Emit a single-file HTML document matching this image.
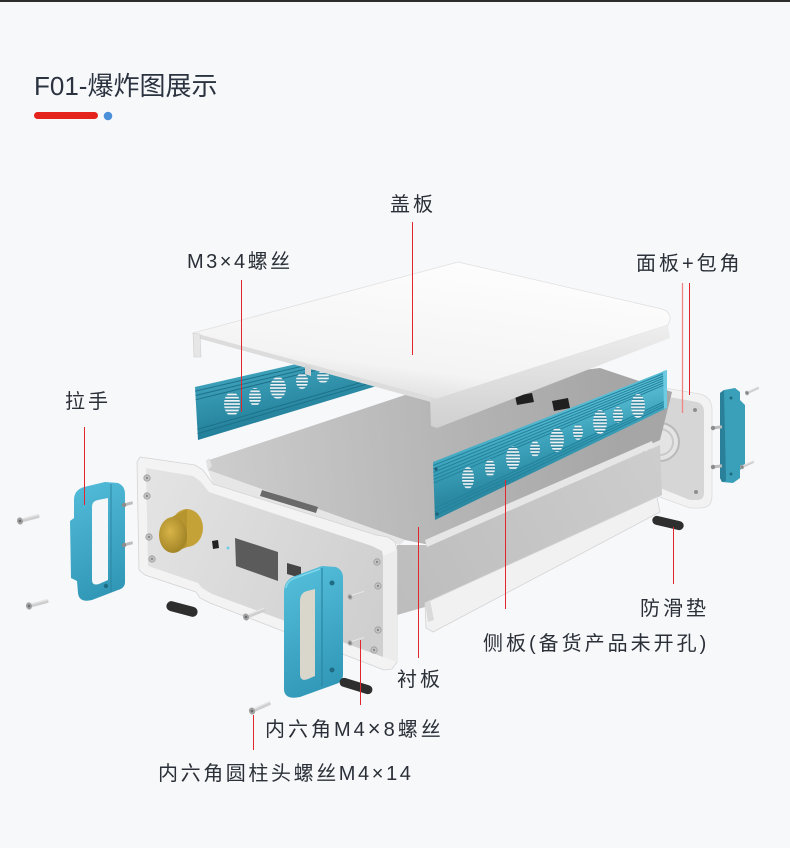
<!DOCTYPE html>
<html><head><meta charset="utf-8">
<style>
html,body{margin:0;padding:0;background:#f7f8fa;}
svg{display:block}
text{font-family:"Liberation Sans","Noto Sans CJK SC",sans-serif;fill:#2b3038;}
</style></head><body>
<svg width="790" height="848" viewBox="0 0 790 848" xmlns="http://www.w3.org/2000/svg">
<defs>
  <linearGradient id="gTop" gradientUnits="userSpaceOnUse" x1="458" y1="262" x2="440" y2="400">
    <stop offset="0" stop-color="#fdfdfd"/><stop offset="0.8" stop-color="#f4f4f4"/><stop offset="1" stop-color="#e2e2e2"/>
  </linearGradient>
  <linearGradient id="gLip" x1="0" y1="0" x2="0" y2="1">
    <stop offset="0" stop-color="#eeeeee"/><stop offset="1" stop-color="#d0d0d0"/>
  </linearGradient>
  <linearGradient id="gPlate" gradientUnits="userSpaceOnUse" x1="210" y1="460" x2="620" y2="420">
    <stop offset="0" stop-color="#cdcdcd"/><stop offset="0.55" stop-color="#b6b6b6"/><stop offset="1" stop-color="#a6a6a6"/>
  </linearGradient>
  <linearGradient id="gBot" gradientUnits="userSpaceOnUse" x1="400" y1="600" x2="660" y2="460">
    <stop offset="0" stop-color="#bdbdbd"/><stop offset="1" stop-color="#cdcdcd"/>
  </linearGradient>
  <linearGradient id="gTealR" gradientUnits="userSpaceOnUse" x1="550" y1="410" x2="565" y2="470">
    <stop offset="0" stop-color="#58bdd4"/><stop offset="0.5" stop-color="#3ba1ba"/><stop offset="1" stop-color="#2b89a2"/>
  </linearGradient>
  <linearGradient id="gTealL" gradientUnits="userSpaceOnUse" x1="280" y1="370" x2="290" y2="420">
    <stop offset="0" stop-color="#3c9fb8"/><stop offset="1" stop-color="#23809a"/>
  </linearGradient>
  <linearGradient id="gFace" gradientUnits="userSpaceOnUse" x1="146" y1="500" x2="383" y2="600">
    <stop offset="0" stop-color="#e3e3e3"/><stop offset="1" stop-color="#cfcfcf"/>
  </linearGradient>
  <linearGradient id="gHandle" gradientUnits="userSpaceOnUse" x1="280" y1="570" x2="345" y2="690">
    <stop offset="0" stop-color="#55c0dc"/><stop offset="1" stop-color="#2f95b5"/>
  </linearGradient>
  <linearGradient id="gHandleL" gradientUnits="userSpaceOnUse" x1="70" y1="485" x2="125" y2="600">
    <stop offset="0" stop-color="#52bcd9"/><stop offset="1" stop-color="#2e93b3"/>
  </linearGradient>
  <radialGradient id="gGold" cx="0.4" cy="0.4" r="0.7">
    <stop offset="0" stop-color="#d8b448"/><stop offset="1" stop-color="#9c7f22"/>
  </radialGradient>
  <pattern id="vent" width="4" height="3.2" patternUnits="userSpaceOnUse">
    <rect width="4" height="3.2" fill="#2a88a1"/><rect width="4" height="1.7" fill="#eef2f4"/>
  </pattern>
  <g id="scr">
    <rect x="0" y="-2" width="20" height="4" rx="1" fill="#cfcfcf"/>
    <rect x="2" y="-2" width="18" height="1.3" fill="#e8e8e8"/>
    <ellipse cx="0" cy="0" rx="3" ry="3.6" fill="#a3a3a3"/>
    <circle cx="0" cy="0" r="1.3" fill="#6d6d6d"/>
  </g>
  <g id="stud">
    <rect x="0" y="-1.5" width="9" height="3" fill="#bdbdbd"/>
    <circle cx="0" cy="0" r="2.2" fill="#8d8d8d"/>
  </g>
  <g id="hole">
    <circle cx="0" cy="0" r="3.2" fill="#c4c4c4" stroke="#9c9c9c" stroke-width="0.8"/>
    <circle cx="0" cy="0" r="1.2" fill="#8a8a8a"/>
  </g>
</defs>

<rect width="790" height="848" fill="#f7f8fa"/>
<rect width="790" height="2" fill="#2d2d2d"/>

<!-- Title -->
<text x="34" y="95" font-size="26" style="fill:#2b3340">F01-爆炸图展示</text>
<rect x="34" y="112" width="64" height="7" rx="3.5" fill="#e5231d"/>
<circle cx="108" cy="116" r="4.3" fill="#4a8fd8"/>

<!-- Back panel (面板) -->
<path d="M577,373 L700,394 Q712,397 712,410 L712,496 Q712,508 700,508 L690,508 L643,491 L577,470 Z" fill="#f2f2f2" stroke="#dcdcdc" stroke-width="0.8"/>
<path d="M585,382 L697,402 Q704,404 704,412 L704,493 Q704,500 697,500 L690,500 L650,484 L585,464 Z" fill="#d6d6d6"/>
<circle cx="660" cy="442" r="19" fill="#e4e4e4" stroke="#b9b9b9" stroke-width="2"/>
<circle cx="660" cy="442" r="13" fill="none" stroke="#c9c9c9" stroke-width="2"/>
<circle cx="695" cy="410" r="2" fill="#8e8e8e"/>
<circle cx="696" cy="492" r="2" fill="#8e8e8e"/>

<!-- Lining plate (衬板) -->
<path d="M206,461 L420,390 L600,368 L672,392 L660,440 L430,545 L405,540 L208,470 Z" fill="url(#gPlate)"/>
<path d="M206,461 L209,458 L212,466 L208,470 Z" fill="#e2e2e2"/>
<!-- dark interior bits -->
<path d="M515,396 L532,393 L534,402 L517,405 Z" fill="#1f1f1f"/>
<path d="M552,401 L568,398 L570,408 L554,411 Z" fill="#1f1f1f"/>

<!-- Bottom tray -->
<path d="M397,545 L430,545 L660,445 L662,495 L432,605 L397,615 Z" fill="url(#gBot)"/>
<path d="M425,540 L652,441 L654,447 L427,547 Z" fill="#e6e6e6"/>
<path d="M425,603 L657,497 L660,512 L433,632 L426,628 Z" fill="#f1f1f1" stroke="#d4d4d4" stroke-width="0.8"/>
<path d="M425,603 L430,600 L434,620 L428,622 Z" fill="#dadada"/>

<!-- Left teal side panel -->
<path d="M195,387 L380,345 L380,385 L198,440 Z" fill="url(#gTealL)"/>
<g stroke="#1d7189" stroke-width="1">
  <line x1="195.2" y1="391.2" x2="380" y2="348.2"/>
  <line x1="195.5" y1="395.5" x2="380" y2="351.4"/>
  <line x1="195.7" y1="399.7" x2="380" y2="354.6"/>
  <line x1="197.4" y1="429.4" x2="380" y2="377"/>
  <line x1="197.6" y1="433.6" x2="380" y2="380.2"/>
</g>
<g fill="url(#vent)">
  <ellipse cx="232" cy="404" rx="8" ry="12"/>
  <ellipse cx="255" cy="397" rx="6" ry="9"/>
  <ellipse cx="278" cy="388" rx="8" ry="11"/>
  <ellipse cx="302" cy="381" rx="6" ry="8"/>
  <ellipse cx="323" cy="377" rx="6" ry="6"/>
</g>

<!-- Top cover (盖板) -->
<path d="M193,333 L458,262 L662,309 Q671,312 670,320 L668,325 L436,399 L430,397 Z" fill="url(#gTop)" stroke="#e0e0e0" stroke-width="0.8"/>
<path d="M430,397 L436,399 L668,325 L670,338 L437,428 L431,426 Z" fill="url(#gLip)"/>
<path d="M193,333 L431,397 L431,402 L197,338 Z" fill="#dcdcdc"/>
<path d="M193,333 L200,334 L201,357 L194,357 Z" fill="#e6e6e6" stroke="#cfcfcf" stroke-width="0.6"/>
<path d="M305,365 L311,367 L311,376 L305,374 Z" fill="#d4d4d4"/>

<!-- Right teal side panel (侧板) -->
<path d="M433,462 L667,370 L667,408 L435,520 Z" fill="url(#gTealR)"/>
<g stroke="#23819b" stroke-width="1">
  <line x1="433.1" y1="465.5" x2="667" y2="372.3"/>
  <line x1="433.2" y1="469.0" x2="667" y2="374.6"/>
  <line x1="433.4" y1="472.4" x2="667" y2="376.8"/>
  <line x1="433.5" y1="475.9" x2="667" y2="379.1"/>
  <line x1="433.6" y1="479.4" x2="667" y2="381.4"/>
  <line x1="433.7" y1="482.9" x2="667" y2="383.7"/>
  <line x1="434.6" y1="508.4" x2="667" y2="400.4"/>
  <line x1="434.7" y1="511.9" x2="667" y2="402.7"/>
  <line x1="434.8" y1="515.4" x2="667" y2="405.0"/>
</g>
<g fill="url(#vent)">
  <ellipse cx="468" cy="478" rx="6" ry="11"/>
  <ellipse cx="490" cy="468" rx="5" ry="9"/>
  <ellipse cx="513" cy="458" rx="7" ry="12"/>
  <ellipse cx="535" cy="449" rx="5" ry="8"/>
  <ellipse cx="557" cy="440" rx="7" ry="12"/>
  <ellipse cx="578" cy="432" rx="5" ry="8"/>
  <ellipse cx="600" cy="422" rx="7" ry="12"/>
  <ellipse cx="618" cy="415" rx="5" ry="8"/>
  <ellipse cx="638" cy="406" rx="7" ry="12"/>
</g>
<path d="M663,371 L667,370 L667,408 L664,409 Z" fill="#6ccbe0"/>
<circle cx="436" cy="469" r="1.6" fill="#1c6277"/>
<circle cx="437" cy="514" r="1.6" fill="#1c6277"/>

<!-- Gap between plate and front panel -->
<path d="M208,470 L405,540 L400,545 L213,484 Z" fill="#e6e6e6"/>
<path d="M262,490 L318,507 L316,513 L260,496 Z" fill="#6a6a6a"/>

<!-- Front panel -->
<path d="M140,457 L195,465 L203,470 L213,484 L376,535 L388,537 L395,542 L397,550 L397,662 L392,669 L384,670 L210,603 L200,598 L196,592 L145,575 L139,570 L137,462 Z" fill="#f3f3f3" stroke="#d4d4d4" stroke-width="0.8"/>
<path d="M146,468 L193,476 L200,481 L209,492 L372,546 L382,551 L383,556 L383,657 L212,594 L202,588 L198,583 L148,566 Z" fill="url(#gFace)"/>
<path d="M383,556 L397,550 L397,662 L383,657 Z" fill="#ececec"/>
<use href="#hole" transform="translate(147,478)"/>
<use href="#hole" transform="translate(147,496)"/>
<use href="#hole" transform="translate(149,537)"/>
<use href="#hole" transform="translate(152,559)"/>
<use href="#hole" transform="translate(377,562)"/>
<use href="#hole" transform="translate(378,586)"/>
<use href="#hole" transform="translate(378,630)"/>
<use href="#hole" transform="translate(374,650)"/>
<!-- knob -->
<ellipse cx="187" cy="528" rx="16" ry="19" fill="#c4a238"/>
<path d="M172,517 L187,509 L187,547 L172,553 Z" fill="#b6952e"/>
<ellipse cx="173" cy="535" rx="14" ry="18" fill="url(#gGold)"/>
<!-- button / led -->
<path d="M212,541 L218,540 L219,548 L213,549 Z" fill="#222"/>
<circle cx="228" cy="548" r="1.5" fill="#6fd3e3"/>
<!-- display -->
<path d="M235,538 L278,552 L278,581 L236,566 Z" fill="#5b5b5b"/>
<!-- RJ45 -->
<path d="M287,563 L301,567 L301,578 L287,574 Z" fill="#454545"/>
<!-- right knob -->
<ellipse cx="326" cy="594" rx="16" ry="18" fill="#c6a23a"/>

<!-- front screws -->
<use href="#scr" transform="translate(246,617) rotate(-22)"/>
<use href="#scr" transform="translate(350,597) rotate(-18) scale(0.75)"/>
<use href="#scr" transform="translate(350,643) rotate(-18) scale(0.75)"/>

<!-- Right handle -->
<path d="M284,592 Q284,580 295,576 L322,566 L336,567 Q343,570 343,578 L343,674 Q343,682 336,684 L300,697 Q285,700 284,690 Z" fill="url(#gHandle)"/>
<path d="M300,601 Q300,593 307,591 L315,589 L315,676 L308,679 Q300,682 300,674 Z" fill="#d9d6cc"/>
<line x1="322" y1="568" x2="322" y2="686" stroke="#2a86a3" stroke-width="1.2"/>
<path d="M286,588 Q287,581 295,578 L320,569" fill="none" stroke="#7fd6ea" stroke-width="1.5"/>
<circle cx="332" cy="583" r="2.5" fill="#1e6b82"/>
<circle cx="332" cy="670" r="2.5" fill="#1e6b82"/>

<!-- Left handle (拉手) -->
<path d="M74,500 Q74,490 84,487 L105,482 L118,483 Q125,486 125,494 L125,582 Q125,588 118,590 L92,600 Q79,603 78,593 L77,581 L71,578 L70,521 L74,518 Z" fill="url(#gHandleL)"/>
<path d="M92,507 Q92,501 98,500 L108,498 L108,580 L99,584 Q92,586 92,580 Z" fill="#f5f6f8"/>
<line x1="111" y1="484" x2="111" y2="592" stroke="#2a86a3" stroke-width="1"/>
<circle cx="106" cy="586" r="2.2" fill="#1e6b82"/>
<use href="#stud" transform="translate(124,505) rotate(-15)"/>
<use href="#stud" transform="translate(124,545) rotate(-15)"/>

<!-- left screws -->
<use href="#scr" transform="translate(20,521) rotate(-15)"/>
<use href="#scr" transform="translate(29,606) rotate(-15)"/>

<!-- Pads -->
<rect x="-16" y="-5" width="32" height="10" rx="5" fill="#2e2e2e" transform="translate(182,609) rotate(15)"/>
<rect x="-17" y="-4.5" width="34" height="9" rx="4.5" fill="#2e2e2e" transform="translate(356,686) rotate(17)"/>
<rect x="-16" y="-4.5" width="32" height="9" rx="4.5" fill="#2e2e2e" transform="translate(668,523) rotate(13)"/>

<!-- bottom screw -->
<use href="#scr" transform="translate(252,711) rotate(-24)"/>

<!-- Right corner piece (包角) -->
<path d="M724,390 L735,388 L740,392 L740,400 L745,405 L745,465 L740,470 L740,478 L733,483 L722,482 L720,478 L720,393 Z" fill="#3a9fb8"/>
<path d="M720,393 L724,390 L726,481 L722,482 L720,478 Z" fill="#2a8099"/>
<circle cx="731" cy="398" r="1.5" fill="#1d6a80"/>
<circle cx="731" cy="474" r="1.5" fill="#1d6a80"/>
<use href="#scr" transform="translate(747,393) rotate(-25) scale(0.65)"/>
<use href="#scr" transform="translate(742,467) rotate(-25) scale(0.65)"/>
<use href="#stud" transform="translate(713,428) rotate(-8)"/>
<use href="#stud" transform="translate(713,467) rotate(-8)"/>

<!-- Leader lines -->
<g stroke="#e3262b" stroke-width="1">
  <line x1="412.5" y1="222" x2="412.5" y2="355"/>
  <line x1="241.5" y1="280" x2="241.5" y2="412"/>
  <line x1="689.5" y1="283" x2="689.5" y2="395"/>
  <line x1="84.5" y1="427" x2="84.5" y2="505"/>
  <line x1="673.5" y1="527" x2="673.5" y2="584"/>
  <line x1="505.5" y1="480" x2="505.5" y2="609"/>
  <line x1="418.5" y1="527" x2="418.5" y2="658"/>
  <line x1="360.5" y1="640" x2="360.5" y2="705"/>
  <line x1="253.5" y1="715" x2="253.5" y2="750"/>
</g>
<line x1="682.5" y1="283" x2="682.5" y2="413" stroke="#ee8585" stroke-width="1.3"/>

<!-- Labels -->
<g font-size="20" letter-spacing="3">
  <text x="390" y="211">盖板</text>
  <text x="187" y="268" letter-spacing="2.5">M3×4螺丝</text>
  <text x="636" y="270">面板+包角</text>
  <text x="65" y="408">拉手</text>
  <text x="640" y="615">防滑垫</text>
  <text x="483" y="650">侧板(备货产品未开孔)</text>
  <text x="397" y="686">衬板</text>
  <text x="265" y="736">内六角M4<tspan font-size="22">×</tspan>8螺丝</text>
  <text x="158" y="780" letter-spacing="2.6">内六角圆柱头螺丝M4×14</text>
</g>
</svg>
</body></html>
